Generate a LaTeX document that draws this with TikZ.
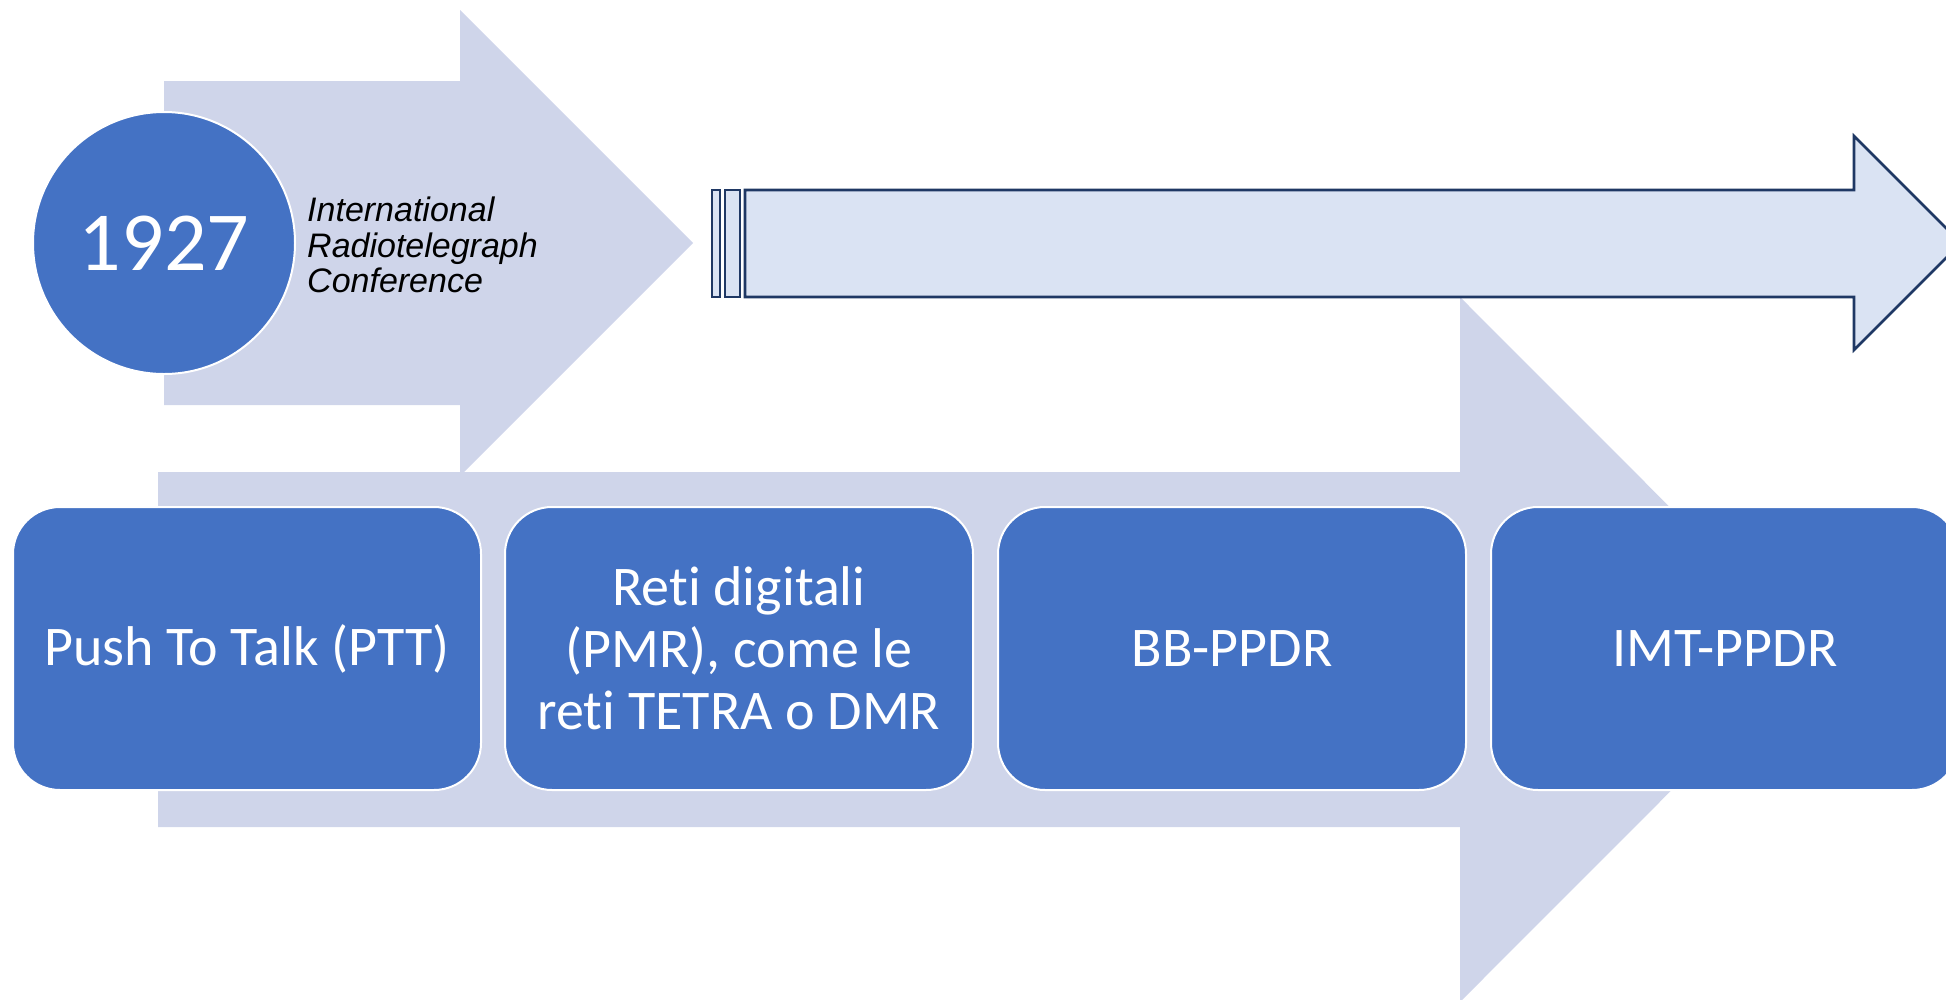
\documentclass[tikz,border=0pt]{standalone}
\usepackage{fontspec}
\setmainfont{Carlito}[Ligatures=NoCommon]
\newfontfamily\arialfont{Liberation Sans}
\definecolor{bandfill}{HTML}{CFD5EA}
\definecolor{stageblue}{HTML}{4472C4}
\definecolor{pipefill}{HTML}{DAE3F3}
\definecolor{pipeline}{HTML}{1F3864}
% keeps "t" and "i" as separate glyphs
\newcommand{\tbreak}{t\kern0pt i}
\begin{document}
\begin{tikzpicture}[x=1pt,y=-1pt,
  band/.style={fill=bandfill, draw=none},
  pipe/.style={fill=pipefill, draw=pipeline, line width=2.6pt, line join=miter},
  stage/.style={rectangle, rounded corners=47pt, fill=stageblue, draw=white,
    line width=2pt, minimum width=468pt, minimum height=283pt, inner sep=0pt,
    text=white, align=center, font=\fontsize{56}{62}\selectfont},
  year/.style={circle, fill=stageblue, draw=white, line width=2pt,
    minimum size=262pt, inner sep=0pt, text=white,
    font=\fontsize{84}{90}\selectfont},
  caption/.style={anchor=west, align=left, inner sep=0pt,
    font=\arialfont\itshape\fontsize{34}{35.5}\selectfont}
]
\useasboundingbox (0,0) rectangle (1946,999);
\clip (0,0) rectangle (1946,999);

% background block arrows
\path[band] (164,81) -- (460,81) -- (460,10) -- (693,243) -- (460,476)
  -- (460,405) -- (164,405) -- cycle;
\path[band] (158,472) -- (1460,472) -- (1460,297) -- (1812,649.5)
  -- (1460,1002) -- (1460,827) -- (158,827) -- cycle;

% striped arrow
\draw[pipe] (712,190) rectangle (720,297);
\draw[pipe] (725,190) rectangle (740,297);
\draw[pipe] (745,190) -- (1854,190) -- (1854,136) -- (1961,243)
  -- (1854,350) -- (1854,297) -- (745,297) -- cycle;

% year and caption
\node[year] (yr) at (164,243) {1927};
\node[caption] (conf) at (307,245) {International\\Radiotelegraph\\Conference};

% stages
\node[stage] (s1) at (247,648.5) {Push To Talk (PTT)};
\node[stage] (s2) at (739,648.5) {Re\tbreak{} digitali\\(PMR), come le\\re\tbreak{} TETRA o DMR};
\node[stage] (s3) at (1232,648.5) {BB-PPDR};
\node[stage] (s4) at (1725,648.5) {IMT-PPDR};
\end{tikzpicture}
\end{document}
